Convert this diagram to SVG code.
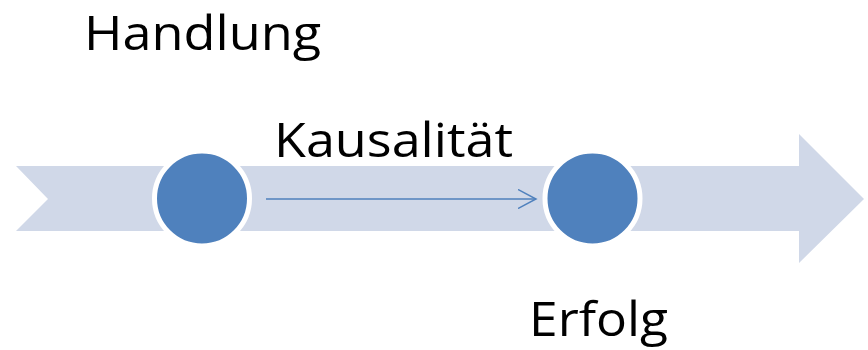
<svg xmlns="http://www.w3.org/2000/svg" width="868" height="350" viewBox="0 0 868 350">
  <defs>
    <style>
      .lbl { font-family: "Open Sans", "Liberation Sans", sans-serif; font-size: 48px; fill: #000; }
      .node { fill: #4F81BD; stroke: #FFFFFF; stroke-width: 5; }
      .band { fill: #D0D8E8; }
      .conn { stroke: #4F81BD; stroke-width: 1.5; fill: none; }
    </style>
    <marker id="open" markerWidth="20" markerHeight="20" refX="18" refY="10" orient="auto" markerUnits="userSpaceOnUse">
      <polyline points="0,0.5 18,10 0,19.5" fill="none" stroke="#4F81BD" stroke-width="1.5"/>
    </marker>
  </defs>
  <g id="band">
    <polygon class="band" points="16,166 799,166 799,134 864,199 799,263 799,231 16,231 48,199"/>
  </g>
  <g id="connectors">
    <line class="conn" x1="266" y1="199" x2="536" y2="199" marker-end="url(#open)"/>
  </g>
  <g id="node-handlung">
    <circle class="node" cx="202" cy="198.5" r="47.5"/>
  </g>
  <g id="node-erfolg">
    <circle class="node" cx="592.5" cy="198.5" r="47.5"/>
  </g>
  <g id="labels">
    <text class="lbl" x="84" y="50" textLength="237" lengthAdjust="spacingAndGlyphs">Handlung</text>
    <text class="lbl" x="274" y="157" textLength="239" lengthAdjust="spacingAndGlyphs">Kausalität</text>
    <text class="lbl" x="529" y="336" textLength="139" lengthAdjust="spacingAndGlyphs">Erfolg</text>
  </g>
</svg>
